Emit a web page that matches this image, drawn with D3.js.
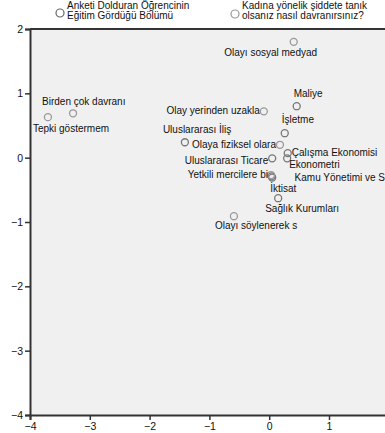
<!DOCTYPE html>
<html>
<head>
<meta charset="utf-8">
<script src="https://cdn.jsdelivr.net/npm/d3@7"></script>
<style>
  html, body { margin: 0; padding: 0; background: #fff; }
  svg { display: block; font-family: "Liberation Sans", Arial, sans-serif; }
</style>
</head>
<body>
<svg id="chart" width="385" height="433"></svg>
<script>
// category 1: departments
const deptNames = ['Maliye', 'İşletme', 'Uluslararası İliş', 'Çalışma Ekonomisi', 'Ekonometri',
  'Uluslararası Ticare', 'İktisat', 'Kamu Yönetimi ve S', 'Sağlık Kurumları'];
const deptX = [0.46, 0.26, -1.41, 0.31, 0.30, 0.05, 0.05, 0.04, 0.15];
const deptY = [0.80, 0.38, 0.24, 0.07, -0.01, -0.01, -0.31, -0.29, -0.63];

// category 2: behaviours
const behNames = ['Olayı sosyal medyad', 'Olay yerinden uzakla', 'Olaya fiziksel olara',
  'Yetkili mercilere bi', 'Olayı söylenerek s', 'Birden çok davranı', 'Tepki göstermem'];
const behX = [0.41, -0.09, 0.18, 0.03, -0.59, -3.28, -3.70];
const behY = [1.80, 0.72, 0.20, -0.27, -0.91, 0.69, 0.63];

const xTicks = [-4, -3, -2, -1, 0, 1];
const yTicks = [2, 1, 0, -1, -2, -3, -4];

const legendItems = [
  ['Anketi Dolduran Öğrencinin', 'Eğitim Gördüğü Bölümü'],
  ['Kadına yönelik şiddete tanık', 'olsanız nasıl davranırsınız?']
];

// label placement: [dx, dy, anchor]
const labelPos = {
  'Maliye': [-3, -9, 'start'],
  'İşletme': [-3, -10, 'start'],
  'Uluslararası İliş': [-22, -9, 'start'],
  'Çalışma Ekonomisi': [4, 3, 'start'],
  'Ekonometri': [2, 10, 'start'],
  'Uluslararası Ticare': [-4, 6, 'end'],
  'İktisat': [-2, 14, 'start'],
  'Kamu Yönetimi ve S': [23, 5, 'start'],
  'Sağlık Kurumları': [-13, 14, 'start'],
  'Olayı sosyal medyad': [-23, 14, 'middle'],
  'Olay yerinden uzakla': [-4, 3, 'end'],
  'Olaya fiziksel olara': [-4, 3, 'end'],
  'Yetkili mercilere bi': [-3, 3, 'end'],
  'Olayı söylenerek s': [-19, 13, 'start'],
  'Birden çok davranı': [-31, -8, 'start'],
  'Tepki göstermem': [-15, 15, 'start']
};

const svg = d3.select('#chart');
const mLeft = 30, mTop = 29, mBottom = 415;
const x = d3.scaleLinear().domain([-4, 2]).range([mLeft, mLeft + 6 * 59.8]);
const y = d3.scaleLinear().domain([-4, 2]).range([mBottom, mTop]);

svg.append('rect')
  .attr('x', mLeft).attr('y', mTop)
  .attr('width', 400).attr('height', mBottom - mTop)
  .attr('fill', '#f0f0f0');

const gx = svg.append('g').attr('transform', `translate(0,${mBottom})`)
  .call(d3.axisBottom(x).tickValues(xTicks).tickSize(5).tickPadding(3).tickFormat(d3.format('d')));
const gy = svg.append('g').attr('transform', `translate(${mLeft},0)`)
  .call(d3.axisLeft(y).tickValues(yTicks).tickSize(5).tickPadding(2).tickFormat(d3.format('d')));
[gx, gy].forEach(g => {
  g.select('.domain').attr('stroke', '#333').attr('stroke-width', 2);
  g.selectAll('line').attr('stroke', '#333').attr('stroke-width', 1.5);
  g.selectAll('text').attr('fill', '#111').style('font-size', '10.5px')
    .style('font-family', '"Liberation Sans", Arial, sans-serif');
});
svg.append('line').attr('x1', mLeft).attr('x2', 385).attr('y1', mTop).attr('y2', mTop)
  .attr('stroke', '#333').attr('stroke-width', 2);

const points = deptNames.map((n, i) => ({name: n, x: deptX[i], y: deptY[i], c: '#777'}))
  .concat(behNames.map((n, i) => ({name: n, x: behX[i], y: behY[i], c: '#999'})));

const pts = svg.append('g');
pts.selectAll('circle').data(points).join('circle')
  .attr('cx', d => x(d.x)).attr('cy', d => y(d.y)).attr('r', 3.5)
  .attr('fill', 'none').attr('stroke', d => d.c).attr('stroke-width', 1.3);
pts.selectAll('text').data(points).join('text')
  .attr('x', d => x(d.x) + labelPos[d.name][0])
  .attr('y', d => y(d.y) + labelPos[d.name][1])
  .attr('text-anchor', d => labelPos[d.name][2])
  .attr('fill', '#111').style('font-size', '10px')
  .text(d => d.name);

// legend
const legX = [60, 235];
const leg = svg.append('g');
legendItems.forEach((lines, i) => {
  leg.append('circle').attr('cx', legX[i]).attr('cy', 13 + i).attr('r', 4)
    .attr('fill', 'none').attr('stroke', i === 0 ? '#666' : '#999').attr('stroke-width', 1.2);
  const t = leg.append('text').attr('x', legX[i] + 7).attr('y', 9)
    .attr('fill', '#111').style('font-size', '10px');
  lines.forEach((l, j) => t.append('tspan').attr('x', legX[i] + 7).attr('dy', j ? 9.5 : 0).text(l));
});
</script>
</body>
</html>
